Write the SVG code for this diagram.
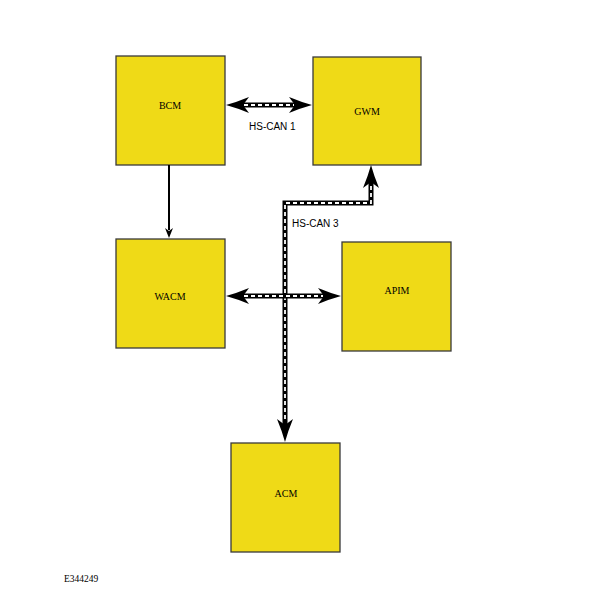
<svg xmlns="http://www.w3.org/2000/svg" xmlns:xlink="http://www.w3.org/1999/xlink" width="598" height="607" viewBox="0 0 598 607">
<style>
.box{fill:#efda17;stroke:#3a3a3a;stroke-width:1.3}
.lbl{font-family:"Liberation Serif",serif;font-size:10px;fill:#000;text-anchor:middle;dominant-baseline:central}
.bus{fill:none;stroke:#000;stroke-width:5}
.busd{fill:none;stroke:#fff;stroke-width:1.8;stroke-dasharray:4 3}
.txt{font-family:"Liberation Sans",Arial,sans-serif;font-size:10px;fill:#000}
.ah{fill:#000}
</style>
<defs>
<path id="big" d="M0,0 Q-11,-3 -23,-8 L-17,0 L-23,8 Q-11,3 0,0 Z"/>
<path id="small" d="M0,0 L-10,-4 L-7,0 L-10,4 Z"/>
</defs>
<rect width="598" height="607" fill="#fff"/>
<g id="BCM"><rect class="box" x="116" y="56" width="109" height="109"/><text class="lbl" x="170" y="105">BCM</text></g>
<g id="GWM"><rect class="box" x="313" y="57" width="108" height="108"/><text class="lbl" x="367" y="111">GWM</text></g>
<g id="WACM"><rect class="box" x="116" y="239" width="109" height="109"/><text class="lbl" x="170" y="296">WACM</text></g>
<g id="APIM"><rect class="box" x="342" y="242" width="109" height="109"/><text class="lbl" x="397" y="290">APIM</text></g>
<g id="ACM"><rect class="box" x="231" y="443" width="109" height="109"/><text class="lbl" x="286" y="493">ACM</text></g>
<g id="connectors">
<line x1="169" y1="165" x2="169" y2="230" stroke="#000" stroke-width="2"/>
<use xlink:href="#small" class="ah" transform="translate(169,238) rotate(90)"/>
<path class="bus" d="M240,105 H298"/>
<path class="busd" d="M244,105 H294"/>
<use xlink:href="#big" class="ah" transform="translate(226,105) rotate(180)"/>
<use xlink:href="#big" class="ah" transform="translate(312,105)"/>
<path class="bus" d="M371,182 V203 H285 V425"/>
<path class="busd" d="M371,186 V203 H285 V421"/>
<path class="bus" d="M240,296 H327"/>
<path class="busd" d="M244,296 H323"/>
<use xlink:href="#big" class="ah" transform="translate(371,165) rotate(-90)"/>
<use xlink:href="#big" class="ah" transform="translate(285,442) rotate(90)"/>
<use xlink:href="#big" class="ah" transform="translate(226,296) rotate(180)"/>
<use xlink:href="#big" class="ah" transform="translate(341,296)"/>
<text class="txt" x="249" y="130">HS-CAN 1</text>
<text class="txt" x="292" y="227">HS-CAN 3</text>
</g>
<text x="64" y="582" font-family="Liberation Serif,serif" font-size="9.5px" fill="#000">E344249</text>
</svg>
